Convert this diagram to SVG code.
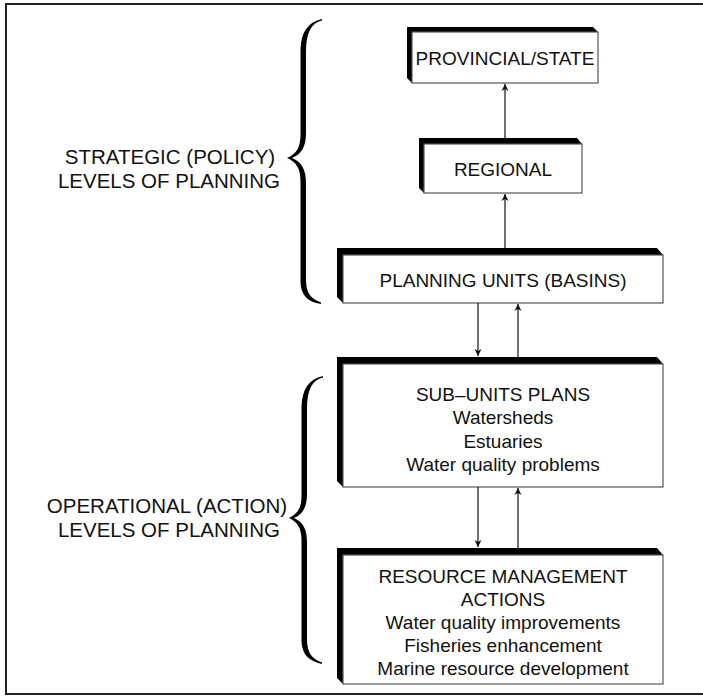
<svg xmlns="http://www.w3.org/2000/svg" width="703" height="699" viewBox="0 0 703 699">
<style>
  text { font-family: "Liberation Sans", Arial, sans-serif; font-size: 19px; fill: #111; text-anchor: middle; }
  .lbl { font-size: 20.5px; }
  .face { fill: #fff; stroke: #555; stroke-width: 1.2; }
  .ext { fill: #000; }
  .conn line { stroke: #111; stroke-width: 1.2; }
  .brace { fill: #000; }
</style>
<defs>
  <marker id="ah" viewBox="0 0 10 10" refX="10" refY="5" markerWidth="7" markerHeight="9" markerUnits="userSpaceOnUse" orient="auto">
    <path d="M0,0 L10,5 L0,10 L3,5 Z" fill="#111"/>
  </marker>
</defs>
<rect x="6" y="4" width="700" height="690" fill="#fff" stroke="#222" stroke-width="2"/>

<g id="label-strategic">
  <text class="lbl" x="170" y="164">STRATEGIC (POLICY)</text>
  <text class="lbl" x="169" y="188">LEVELS OF PLANNING</text>
</g>
<g id="label-operational">
  <text class="lbl" x="167" y="513">OPERATIONAL (ACTION)</text>
  <text class="lbl" x="169" y="537">LEVELS OF PLANNING</text>
</g>

<g id="brace-strategic">
  <path class="brace" d="M322,19 C308,22 301,32 300.5,50 L300.5,135 C300.5,148 296,154 287,158 C296,162 300.5,168 300.5,181 L300.5,282 C301,296 308,302 321,304 L321,302.5 C311,299 306,293 306,280 L306,183 C306,170 302,162 292,158 C302,154 306,146 306,133 L306,52 C306,33 311,23 322,20.5 Z"/>
</g>
<g id="brace-operational">
  <path class="brace" d="M323,376 C309,379 302,389 301.5,407 L301.5,496 C301.5,509 297,514 289,518 C297,522 301.5,527 301.5,540 L301.5,641 C302,655 309,661 322,664 L322,662.5 C312,659 307,653 307,639 L307,542 C307,529 303,522 294,518 C303,514 307,507 307,494 L307,409 C307,390 312,380 323,377.5 Z"/>
</g>

<g id="provincial">
  <polygon class="ext" points="407,27 593,27 598,32 412,32 412,83 407,78"/>
  <rect class="face" x="412" y="32" width="186" height="51"/>
  <text x="505" y="65">PROVINCIAL/STATE</text>
</g>
<g id="regional">
  <polygon class="ext" points="419,138 577,138 582,144 424,144 424,193 419,188"/>
  <rect class="face" x="424" y="144" width="158" height="49"/>
  <text x="503" y="176">REGIONAL</text>
</g>
<g id="planning-units">
  <polygon class="ext" points="337,248 657,248 663,255 343,255 343,303 337,297"/>
  <rect class="face" x="343" y="255" width="320" height="48"/>
  <text x="503" y="287">PLANNING UNITS (BASINS)</text>
</g>
<g id="sub-units">
  <polygon class="ext" points="337,357 657,357 663,364 343,364 343,487 337,481"/>
  <rect class="face" x="343" y="364" width="320" height="123"/>
  <text x="503" y="401">SUB–UNITS PLANS</text>
  <text x="503" y="424">Watersheds</text>
  <text x="503" y="448">Estuaries</text>
  <text x="503" y="471">Water quality problems</text>
</g>
<g id="resource">
  <polygon class="ext" points="337,548 657,548 663,555 343,555 343,684 337,678"/>
  <rect class="face" x="343" y="555" width="320" height="129"/>
  <text x="503" y="583">RESOURCE MANAGEMENT</text>
  <text x="503" y="606">ACTIONS</text>
  <text x="503" y="629">Water quality improvements</text>
  <text x="503" y="652">Fisheries enhancement</text>
  <text x="503" y="675">Marine resource development</text>
</g>

<g id="connectors" class="conn">
  <line x1="505" y1="138" x2="505" y2="84" marker-end="url(#ah)"/>
  <line x1="505" y1="248" x2="505" y2="194" marker-end="url(#ah)"/>
  <line x1="478" y1="303" x2="478" y2="356" marker-end="url(#ah)"/>
  <line x1="518" y1="357" x2="518" y2="304" marker-end="url(#ah)"/>
  <line x1="478" y1="487" x2="478" y2="547" marker-end="url(#ah)"/>
  <line x1="518" y1="548" x2="518" y2="488" marker-end="url(#ah)"/>
</g>
</svg>
